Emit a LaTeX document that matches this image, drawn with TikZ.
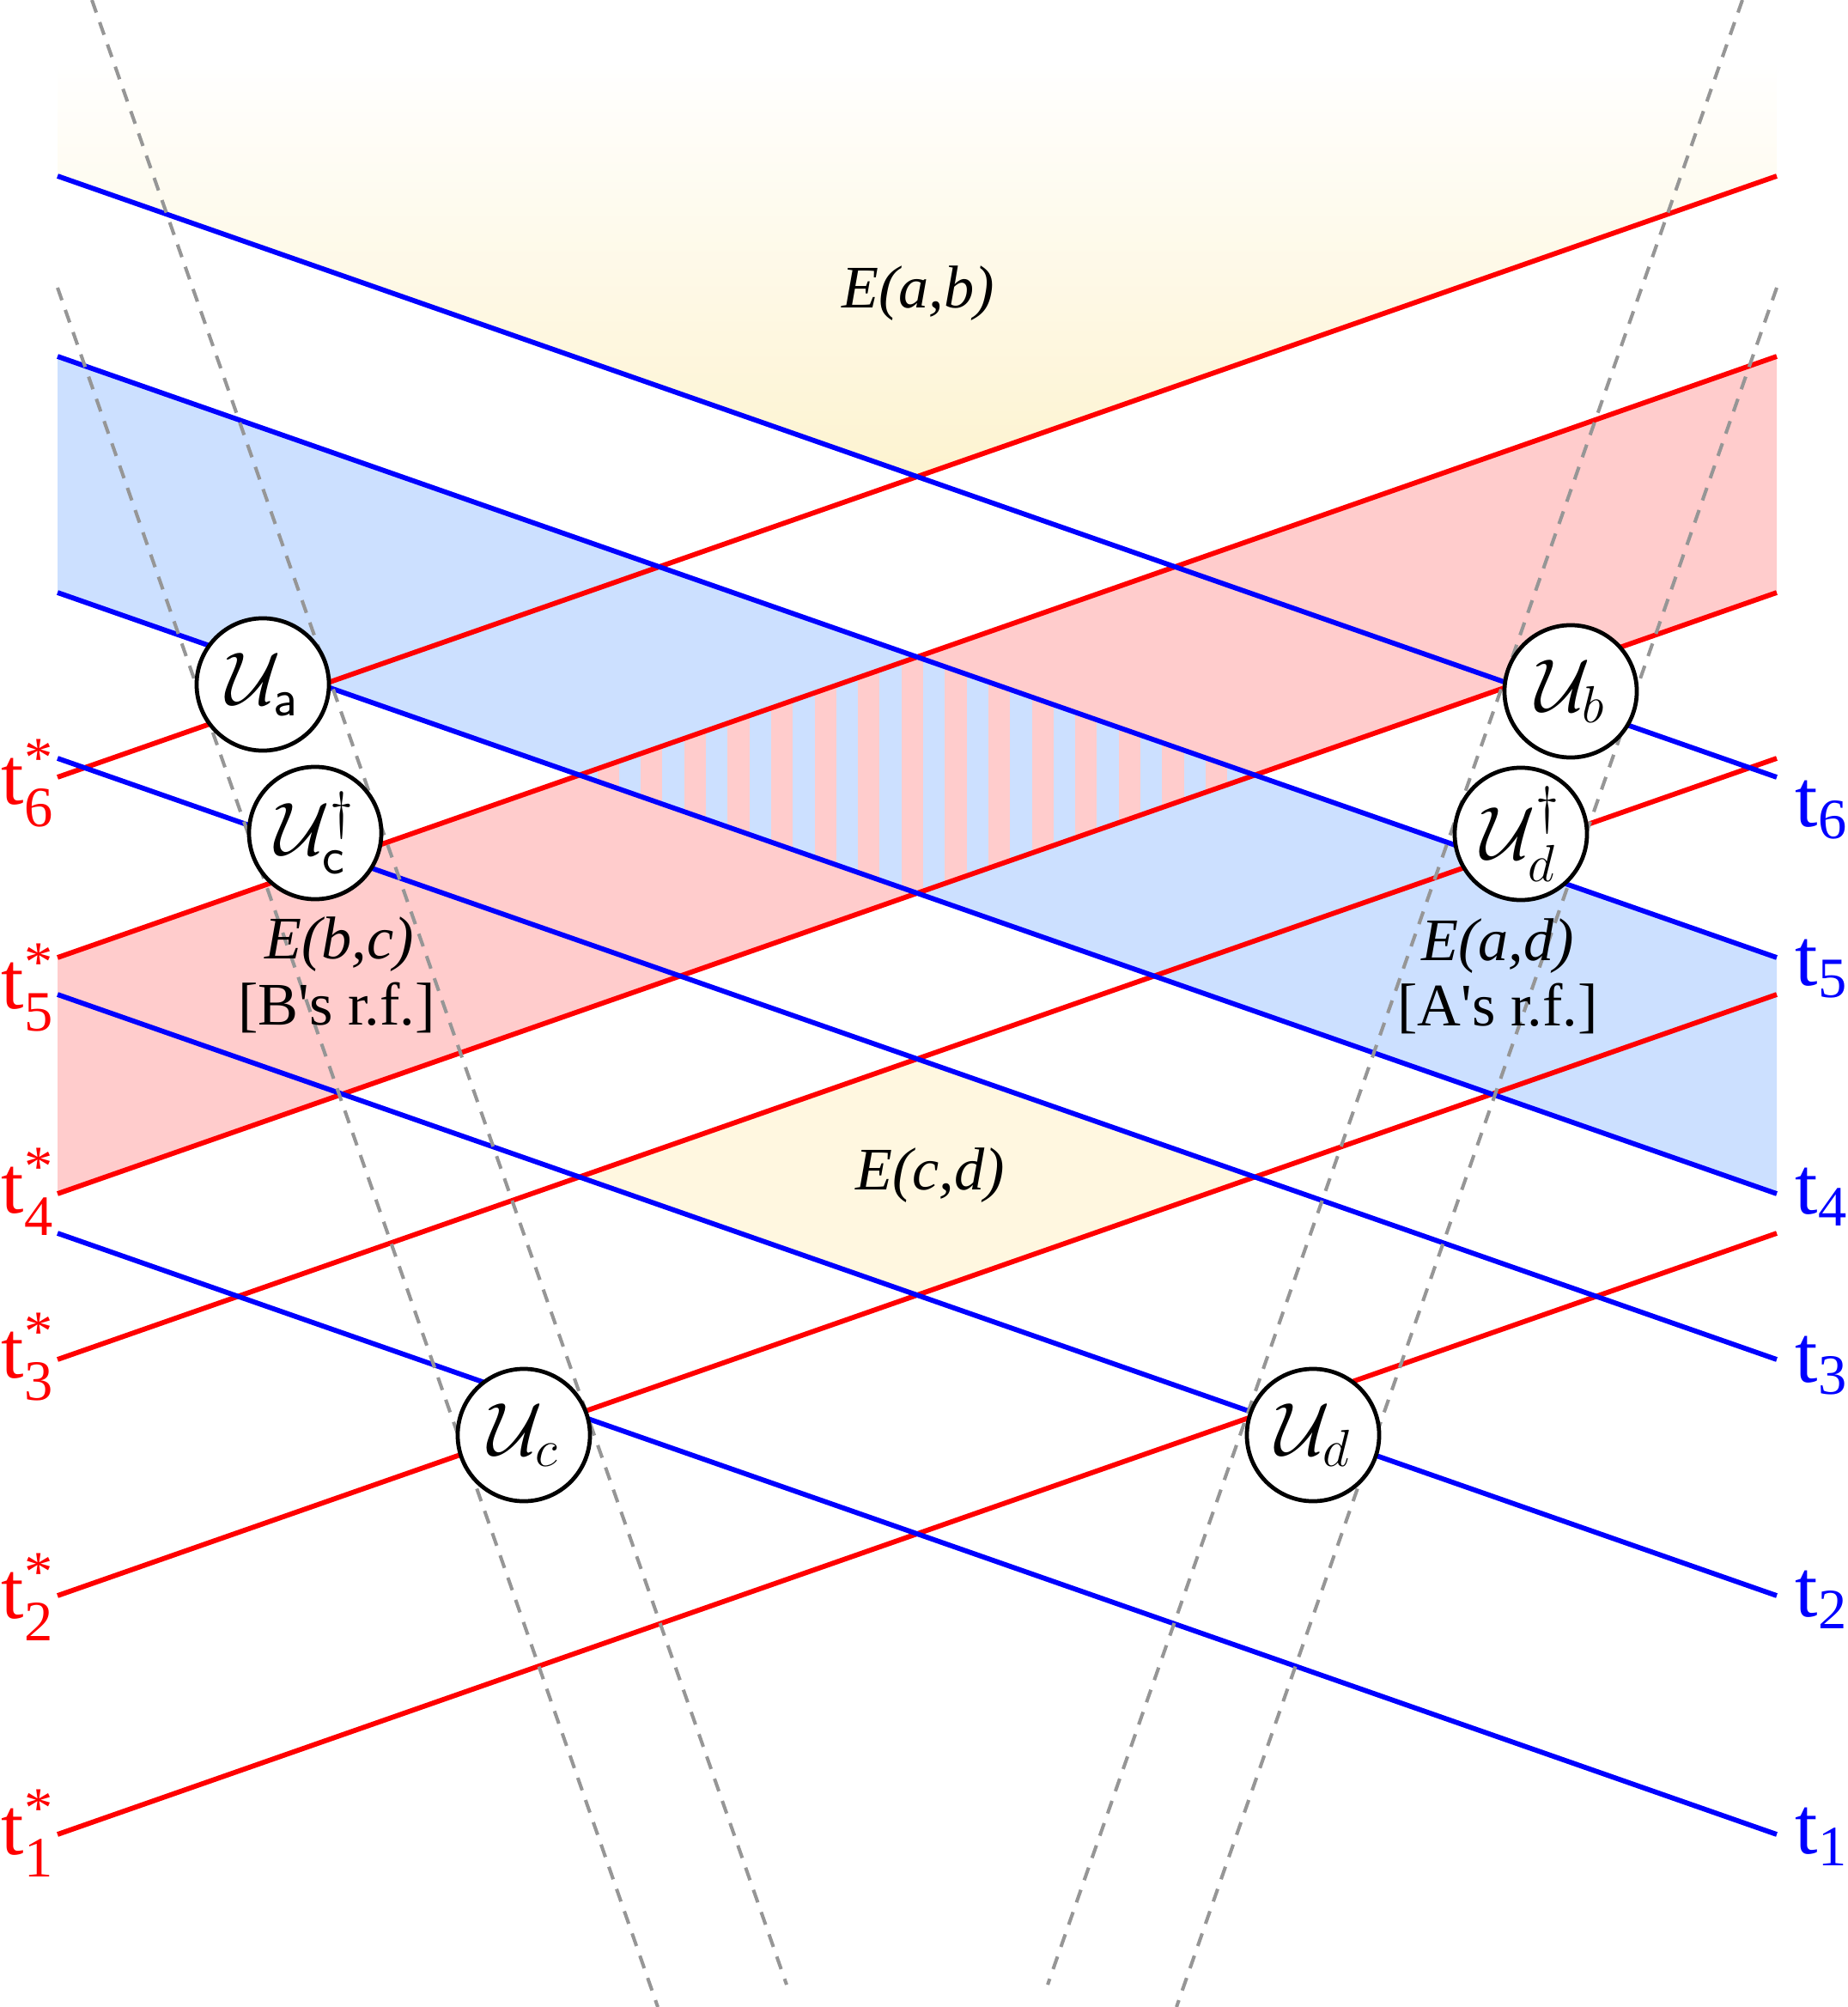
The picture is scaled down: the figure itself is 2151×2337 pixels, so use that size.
\documentclass[tikz,border=0pt]{standalone}
\usepackage{amsmath}
\usepackage{fontspec}
\setmainfont{Liberation Serif}
\definecolor{bandblue}{RGB}{204,224,255}
\definecolor{bandpink}{RGB}{255,204,204}
\definecolor{ylw}{RGB}{255,247,224}
\definecolor{ylwdeep}{RGB}{253,243,208}
\definecolor{dashgray}{RGB}{150,150,150}
\begin{document}
\begin{tikzpicture}[x=0.01cm,y=-0.01cm,
  bline/.style={draw=blue,line width=1.65pt},
  rline/.style={draw=red,line width=1.65pt},
  cone/.style={draw=dashgray,line width=1.15pt,dash pattern=on 4.4pt off 3.4pt},
  gate/.style={circle,draw=black,fill=white,line width=1.35pt,minimum size=1.54cm,inner sep=0pt,font=\fontsize{25}{25}\selectfont},
  tlab/.style={font=\fontsize{27}{27}\selectfont,inner sep=0pt},
  elab/.style={font=\fontsize{20}{22}\selectfont,inner sep=0pt}
]
\useasboundingbox (0,0) rectangle (2151,2337);
% line end points
\foreach \i/\v in {6/205,5/415,4/690,3/883,2/1158,1/1436} {
  \coordinate (bL\i) at (67,\v);
  \coordinate (bR\i) at (2069,\v+700);
  \coordinate (rL\i) at (67,\v+700);
  \coordinate (rR\i) at (2069,\v);
}
\coordinate (apex) at (intersection of bL6--bR6 and rL6--rR6);
% top yellow region E(a,b)
\shade[top color=white,bottom color=ylwdeep] (67,70) -- (bL6) -- (apex) -- (rR6) -- (2069,70) -- cycle;
% E(c,d) diamond
\coordinate (yT) at (intersection of bL3--bR3 and rL3--rR3);
\coordinate (yR) at (intersection of bL3--bR3 and rL2--rR2);
\coordinate (yB) at (intersection of bL2--bR2 and rL2--rR2);
\coordinate (yL) at (intersection of bL2--bR2 and rL3--rR3);
\fill[ylw] (yT) -- (yR) -- (yB) -- (yL) -- cycle;
% bands
\fill[bandblue] (bL5) -- (bR5) -- (bR4) -- (bL4) -- cycle;
\fill[bandpink] (rL5) -- (rR5) -- (rR4) -- (rL4) -- cycle;
% striped overlap
\coordinate (dT) at (intersection of bL5--bR5 and rL5--rR5);
\coordinate (dR) at (intersection of bL5--bR5 and rL4--rR4);
\coordinate (dB) at (intersection of bL4--bR4 and rL4--rR4);
\coordinate (dL) at (intersection of bL4--bR4 and rL5--rR5);
\begin{scope}
  \clip (dT) -- (dR) -- (dB) -- (dL) -- cycle;
  \fill[bandblue] (600,700) rectangle (1550,1100);
  \foreach \k in {-9,...,9}
    \fill[bandpink] ({1075+2*\k*25.3-25.3},700) rectangle ({1075+2*\k*25.3},1100);
\end{scope}
% lines
\foreach \i in {1,...,6} {
  \draw[rline] (rL\i) -- (rR\i);
}
\foreach \i in {1,...,6} {
  \draw[bline] (bL\i) -- (bR\i);
}
% dashed lines
\coordinate (c1a) at (107,0);   \coordinate (c1b) at (916,2311);
\coordinate (c2a) at (67,335);  \coordinate (c2b) at (766,2337);
\coordinate (c3a) at (2029,0);  \coordinate (c3b) at (1220,2311);
\coordinate (c4a) at (2069,335);\coordinate (c4b) at (1370,2337);
\draw[cone] (c1a) -- (c1b);
\draw[cone] (c2a) -- (c2b);
\draw[cone] (c3a) -- (c3b);
\draw[cone] (c4a) -- (c4b);
% gates
\node[gate] (Ua) at (306,797) {$\mathcal{U}_{\textsf{a}}$};
\node[gate] (Ucd) at (367,970) {$\mathcal{U}^{\dagger}_{\textsf{c}}$};
\node[gate] (Ub) at (1829,805) {$\mathcal{U}_{b}$};
\node[gate] (Udd) at (1771,971) {$\mathcal{U}^{\dagger}_{d}$};
\node[gate] (Uc) at (610,1671) {$\mathcal{U}_{c}$};
\node[gate] (Ud) at (1529,1671) {$\mathcal{U}_{d}$};
% region labels
\node[elab] (Eab) at (1069,342) {\textit{E(a,b)}};
\node[elab] (Ecd) at (1083,1369) {\textit{E(c,d)}};
\node[elab] (Ebc) at (395,1100) {\textit{E(b,c)}};
\node[elab] (Bref) at (392,1173) {[B\textquotesingle s r.f.]};
\node[elab] (Ead) at (1744,1102) {\textit{E(a,d)}};
\node[elab] (Aref) at (1744,1174) {[A\textquotesingle s r.f.]};
% time labels
\foreach \i/\y in {6/912,5/1150,4/1388,3/1580,2/1860,1/2135}
  \node[tlab,text=red,anchor=east] (ls\i) at (64,\y) {t$^{\textrm{*}}_{\textrm{\i}}$};
\foreach \i/\y in {6/943,5/1128,4/1394,3/1590,2/1863,1/2139}
  \node[tlab,text=blue,anchor=west] (lt\i) at (2090,\y) {t$_{\textrm{\i}}$};
\end{tikzpicture}
\end{document}
